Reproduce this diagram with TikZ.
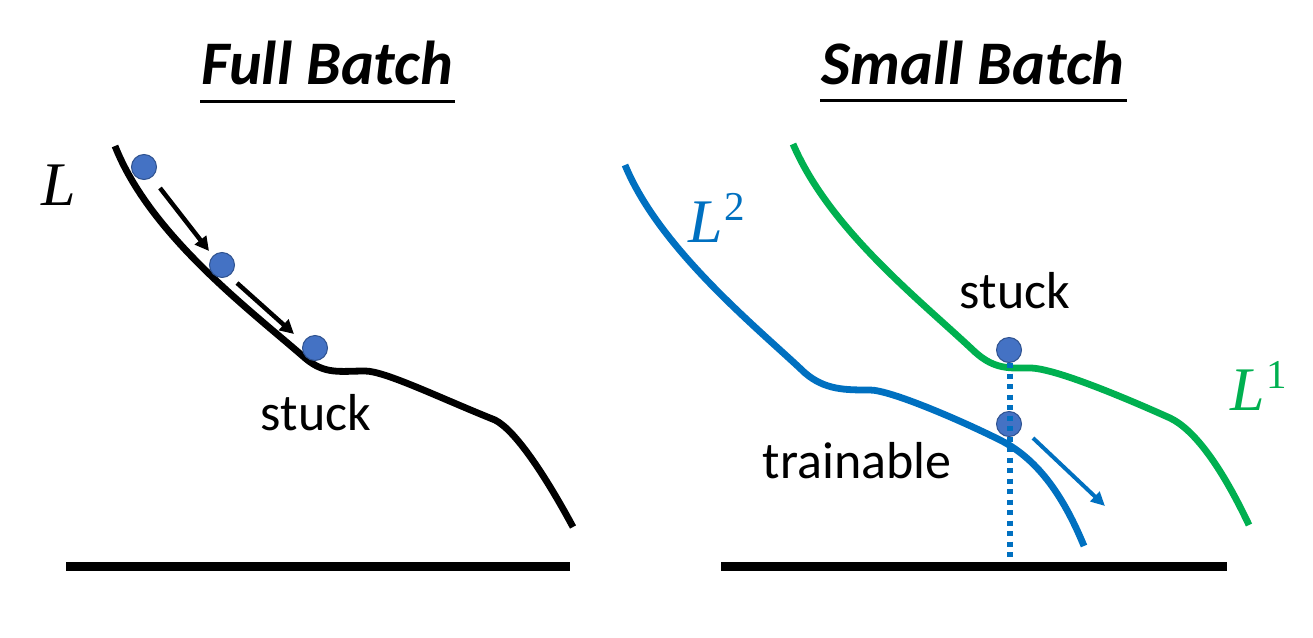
\documentclass[tikz,border=0pt]{standalone}
\usepackage{fontspec}
\setmainfont{Carlito}
\newfontfamily\symfont{Liberation Serif}
\usetikzlibrary{arrows.meta}
\definecolor{pblue}{HTML}{0070C0}
\definecolor{pgreen}{HTML}{00B050}
\definecolor{ballfill}{HTML}{4472C4}
\definecolor{ballline}{HTML}{2F528F}
\newcommand{\supnum}[1]{\raisebox{22pt}{\fontsize{41}{45}\selectfont #1}}
\tikzset{
  ball/.style={circle, fill=ballfill, draw=ballline, line width=1pt, minimum size=25pt, inner sep=0pt},
  curve/.style={line width=6.8pt, line cap=butt},
  title/.style={anchor=base, inner sep=0pt, font=\fontsize{62}{70}\selectfont\bfseries\itshape},
  lbl/.style={anchor=base, inner sep=0pt, font=\fontsize{52}{60}\selectfont},
  mlbl/.style={anchor=base west, inner sep=0pt, font=\fontsize{62}{70}\selectfont\symfont},
  axisline/.style={line width=9pt},
  mover/.style={line width=4.5pt, -{Triangle[length=14pt,width=14pt]}},
}
\begin{document}
\begin{tikzpicture}[x=1pt,y=-1pt]
\useasboundingbox (0,0) rectangle (1313,637);
% titles
\node[title] (t1) at (327,84) {Full Batch};
\node[title] (t2) at (973,84) {Small Batch};
\draw[line width=3pt] (200,101) -- (455,101);
\draw[line width=3pt] (820,100) -- (1127,100);
% ---------- left panel ----------
\draw[curve] (115,146) .. controls (150,235) and (250,310) .. (305,358)
  .. controls (325,375) and (340,371) .. (365,371)
  .. controls (385,371) and (440,398) .. (495,420)
  .. controls (515,430) and (545,475) .. (573,527);
\node[ball] (b1) at (144,167) {};
\node[ball] (b2) at (222,265) {};
\node[ball] (b3) at (315,348) {};
\coordinate (a1s) at (160,188);
\coordinate (a1e) at (209,251);
\coordinate (a2s) at (237,283);
\coordinate (a2e) at (294,334);
\draw[mover] (a1s) -- (a1e);
\draw[mover] (a2s) -- (a2e);
\node[mlbl] (L) at (41,205) {\itshape L};
\node[lbl] (s1) at (316,430) {stuck};
\coordinate (g1a) at (66,566);
\coordinate (g1b) at (570,566);
\draw[axisline] (g1a) -- (g1b);
% ---------- right panel ----------
\draw[curve, pblue] (625,165) .. controls (660,250) and (760,330) .. (805,373)
  .. controls (825,390) and (845,390) .. (870,390)
  .. controls (890,390) and (960,420) .. (1000,440)
  .. controls (1040,460) and (1065,500) .. (1084,546);
\draw[curve, pgreen] (793,144) .. controls (830,230) and (920,300) .. (975,352)
  .. controls (995,370) and (1010,368) .. (1030,368)
  .. controls (1055,368) and (1130,400) .. (1170,418)
  .. controls (1195,430) and (1222,468) .. (1249,525);
\node[ball] (b4) at (1009,350) {};
\node[ball] (b5) at (1009,424) {};
\coordinate (d1) at (1010,363);
\coordinate (d2) at (1010,560);
\draw[pblue, line width=5.5pt, dash pattern=on 5pt off 5.5pt] (d1) -- (d2);
\coordinate (a3s) at (1033,438);
\coordinate (a3e) at (1105,506);
\draw[pblue, line width=4pt, -{Triangle[length=14pt,width=13pt]}] (a3s) -- (a3e);
\node[mlbl, text=pblue] (L2) at (688,242) {{\itshape L}\kern2pt\supnum{2}};
\node[mlbl, text=pgreen] (L1) at (1230,410) {{\itshape L}\kern2pt\supnum{1}};
\node[lbl] (s2) at (1015,308) {stuck};
\node[lbl] (tr) at (857,478) {trainable};
\coordinate (g2a) at (721,566);
\coordinate (g2b) at (1227,566);
\draw[axisline] (g2a) -- (g2b);
\end{tikzpicture}
\end{document}
